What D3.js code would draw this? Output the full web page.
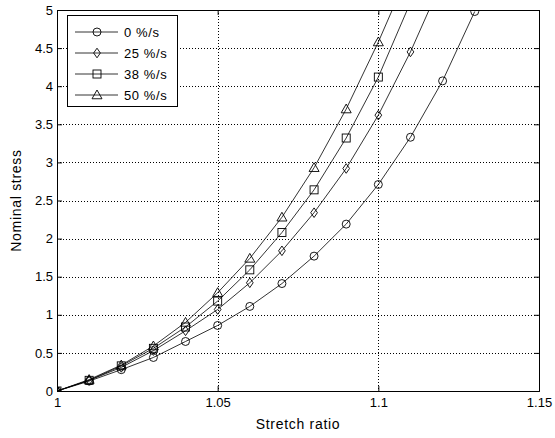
<!DOCTYPE html>
<html>
<head>
<meta charset="utf-8">
<script src="https://cdn.jsdelivr.net/npm/d3@7"></script>
<style>
  body { margin: 0; background: #fff; }
  text { font-family: "Liberation Sans", Arial, sans-serif; }
</style>
</head>
<body>
<div id="chart"></div>
<script>
// stretch ratio samples
const stretch = [1.00, 1.01, 1.02, 1.03, 1.04, 1.05, 1.06, 1.07, 1.08, 1.09, 1.10, 1.11, 1.12, 1.13];

// nominal stress per strain rate
const rate0  = [0, 0.13, 0.28, 0.44, 0.65, 0.86, 1.11, 1.41, 1.77, 2.19, 2.71, 3.33, 4.07, 4.98];
const rate25 = [0, 0.14, 0.31, 0.53, 0.79, 1.07, 1.42, 1.84, 2.34, 2.92, 3.62, 4.45, 5.40];
const rate38 = [0, 0.14, 0.33, 0.56, 0.84, 1.18, 1.59, 2.08, 2.64, 3.32, 4.12, 5.10];
const rate50 = [0, 0.15, 0.34, 0.59, 0.90, 1.29, 1.74, 2.28, 2.93, 3.70, 4.58, 5.55];

const seriesNames = ["0 %/s", "25 %/s", "38 %/s", "50 %/s"];
const seriesValues = [rate0, rate25, rate38, rate50];
const markers = ["circle", "diamond", "square", "triangle"];

const xTicks = [1, 1.05, 1.1, 1.15];
const yTicks = [0, 0.5, 1, 1.5, 2, 2.5, 3, 3.5, 4, 4.5, 5];

const width = 555, height = 438;
const margin = { top: 10, right: 16, bottom: 47, left: 57 };
const w = width - margin.left - margin.right;
const h = height - margin.top - margin.bottom;

const svg = d3.select("#chart").append("svg")
    .attr("width", width)
    .attr("height", height);

const g = svg.append("g")
    .attr("transform", `translate(${margin.left},${margin.top})`);

const x = d3.scaleLinear().domain([1, 1.15]).range([0, w]);
const y = d3.scaleLinear().domain([0, 5]).range([h, 0]);

svg.append("defs").append("clipPath")
    .attr("id", "plot-clip")
    .append("rect")
    .attr("width", w)
    .attr("height", h);

// dotted grid
g.append("g")
    .selectAll("line.vgrid")
    .data(xTicks.slice(1, -1))
    .join("line")
    .attr("x1", d => Math.round(x(d)) + 0.5)
    .attr("x2", d => Math.round(x(d)) + 0.5)
    .attr("y1", 0)
    .attr("y2", h)
    .attr("stroke", "#000")
    .attr("stroke-dasharray", "1,2");

g.append("g")
    .selectAll("line.hgrid")
    .data(yTicks.slice(1, -1))
    .join("line")
    .attr("x1", 0)
    .attr("x2", w)
    .attr("y1", d => Math.round(y(d)) + 0.5)
    .attr("y2", d => Math.round(y(d)) + 0.5)
    .attr("stroke", "#000")
    .attr("stroke-dasharray", "1,2");

// axes with inward ticks
const fmt = d => String(d);
const xAxis = g.append("g")
    .attr("transform", `translate(0,${h})`)
    .call(d3.axisBottom(x).tickValues(xTicks).tickSize(-5).tickPadding(7).tickFormat(fmt));
const xAxisTop = g.append("g")
    .call(d3.axisTop(x).tickValues(xTicks).tickSize(-5).tickFormat(""));
const yAxis = g.append("g")
    .call(d3.axisLeft(y).tickValues(yTicks).tickSize(-5).tickPadding(4).tickFormat(fmt));
const yAxisRight = g.append("g")
    .attr("transform", `translate(${w},0)`)
    .call(d3.axisRight(y).tickValues(yTicks).tickSize(-5).tickFormat(""));

[xAxis, xAxisTop, yAxis, yAxisRight].forEach(a => {
    a.select(".domain").attr("stroke", "#000");
    a.selectAll(".tick line").attr("stroke", "#000");
    a.selectAll("text")
        .attr("fill", "#000")
        .style("font-size", "13px")
        .style("font-family", "'Liberation Sans', Arial, sans-serif");
});

// axis labels
svg.append("text")
    .attr("x", margin.left + w / 2)
    .attr("y", 429)
    .attr("text-anchor", "middle")
    .style("font-size", "14px")
    .style("letter-spacing", "0.7px")
    .text("Stretch ratio");

svg.append("text")
    .attr("transform", `translate(21,${margin.top + h / 2}) rotate(-90)`)
    .attr("text-anchor", "middle")
    .style("font-size", "14px")
    .style("letter-spacing", "0.7px")
    .text("Nominal stress");

// marker drawing helper
function drawMarker(sel, type, cx, cy) {
    if (type === "circle") {
        sel.append("circle").attr("cx", cx).attr("cy", cy).attr("r", 4);
    } else if (type === "diamond") {
        const r = 4.8;
        sel.append("path").attr("d", `M${cx},${cy - r}L${cx + r * 0.7},${cy}L${cx},${cy + r}L${cx - r * 0.7},${cy}Z`);
    } else if (type === "square") {
        sel.append("rect").attr("x", cx - 4).attr("y", cy - 4).attr("width", 8).attr("height", 8);
    } else {
        const r = 5;
        sel.append("path").attr("d", `M${cx},${cy - r}L${cx + r},${cy + r * 0.75}L${cx - r},${cy + r * 0.75}Z`);
    }
}

const plot = g.append("g").attr("clip-path", "url(#plot-clip)");
const line = d3.line().x(d => x(d[0])).y(d => y(d[1]));

seriesValues.forEach((vals, i) => {
    const pts = vals.map((v, j) => [stretch[j], v]);
    plot.append("path")
        .datum(pts)
        .attr("d", line)
        .attr("fill", "none")
        .attr("stroke", "#000")
        .attr("stroke-width", 0.8);
    const mg = plot.append("g")
        .attr("fill", "none")
        .attr("stroke", "#000")
        .attr("stroke-width", 0.9);
    pts.forEach(p => drawMarker(mg, markers[i], x(p[0]), y(p[1])));
});

// legend
const lg = g.append("g").attr("transform", "translate(10,5)");
lg.append("rect")
    .attr("x", 0.5)
    .attr("y", 0.5)
    .attr("width", 110)
    .attr("height", 91)
    .attr("fill", "#fff")
    .attr("stroke", "#000");

seriesNames.forEach((name, i) => {
    const ly = 17 + i * 21;
    lg.append("line")
        .attr("x1", 8).attr("x2", 51)
        .attr("y1", ly).attr("y2", ly)
        .attr("stroke", "#000")
        .attr("stroke-width", 0.8);
    const mg = lg.append("g")
        .attr("fill", "none")
        .attr("stroke", "#000")
        .attr("stroke-width", 0.9);
    drawMarker(mg, markers[i], 30, ly);
    lg.append("text")
        .attr("x", 57)
        .attr("y", ly + 5)
        .style("font-size", "13px")
        .style("letter-spacing", "0.6px")
        .text(name);
});
</script>
</body>
</html>
